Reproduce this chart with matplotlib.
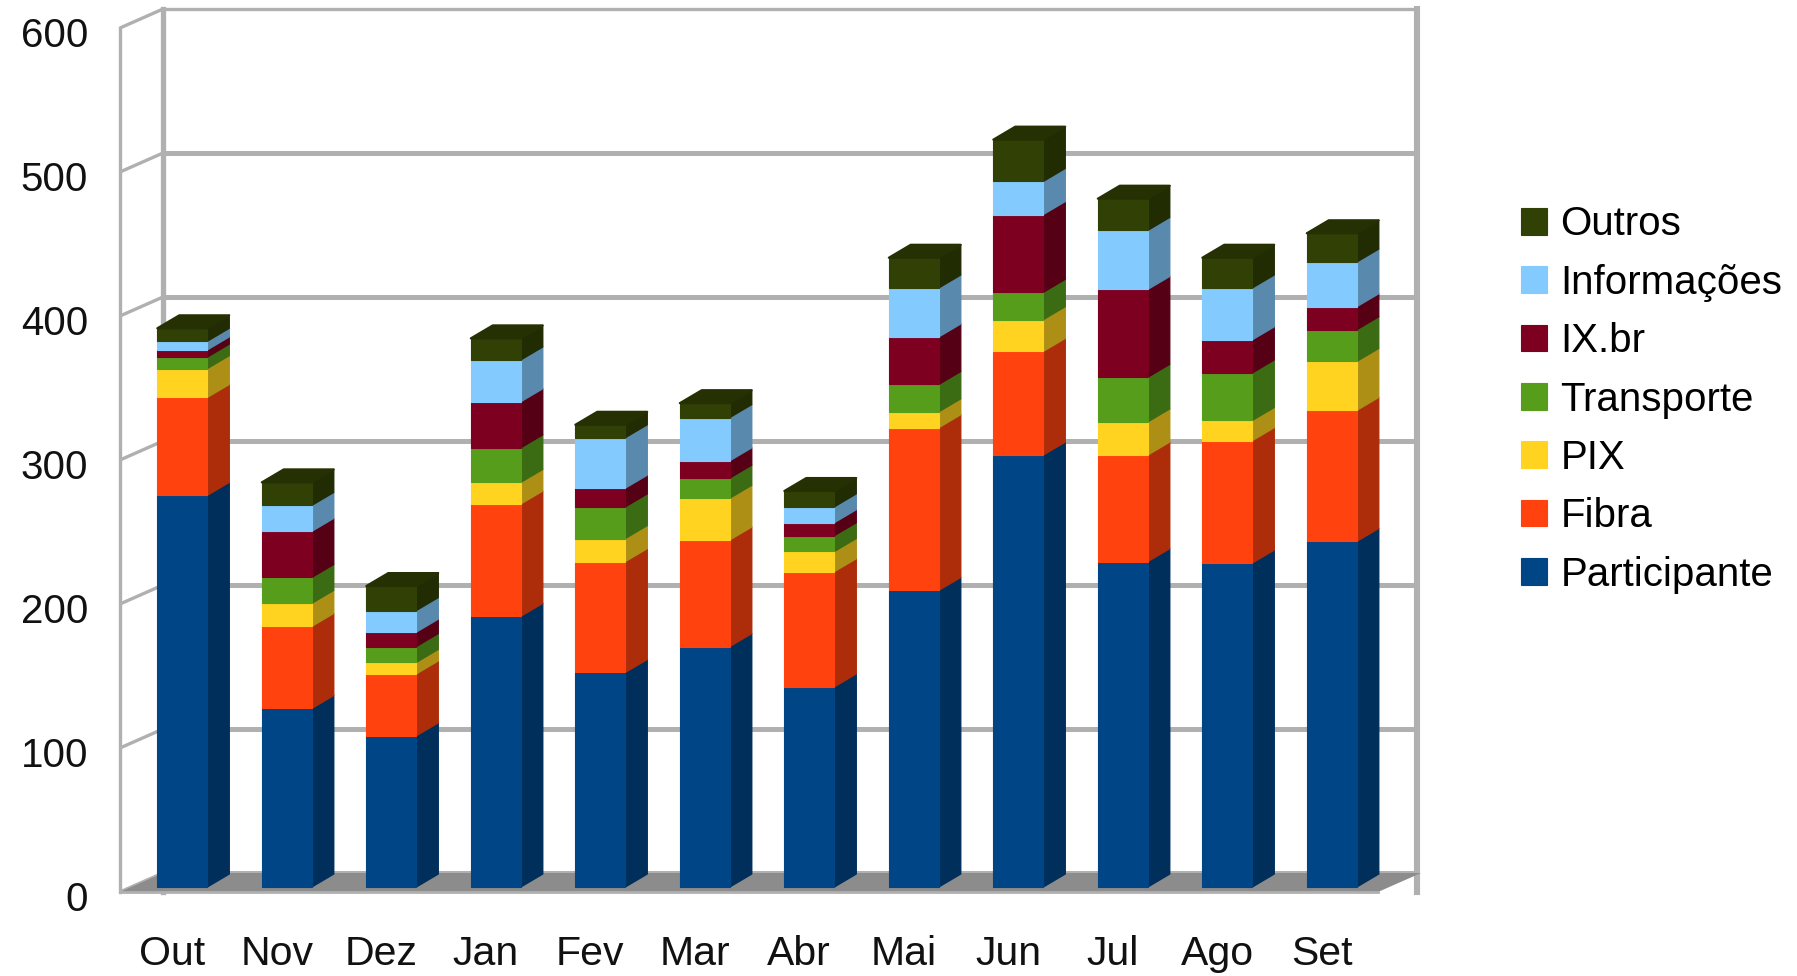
import matplotlib
matplotlib.use('Agg')
import numpy as np
import matplotlib.pyplot as plt
from matplotlib.patches import Polygon
from matplotlib.transforms import ScaledTranslation

plt.rcParams['font.family'] = ['Liberation Sans', 'DejaVu Sans']

meses = ['Out', 'Nov', 'Dez', 'Jan', 'Fev', 'Mar', 'Abr', 'Mai', 'Jun', 'Jul', 'Ago', 'Set']

# valores
participante = [272, 124, 105, 188, 149, 167, 139, 206, 300, 226, 225, 240]
fibra = [68, 57, 43, 78, 77, 74, 80, 113, 72, 74, 85, 91]
pix = [20, 16, 8, 15, 16, 29, 14, 11, 22, 23, 14, 34]
transporte = [8, 18, 11, 24, 22, 14, 11, 19, 19, 31, 33, 22]
ixbr = [5, 32, 10, 32, 13, 12, 9, 33, 54, 61, 23, 16]
informacoes = [6, 18, 15, 29, 35, 30, 11, 34, 23, 41, 36, 31]
outros = [9, 16, 17, 15, 9, 10, 11, 21, 29, 22, 21, 20]

series = [participante, fibra, pix, transporte, ixbr, informacoes, outros]
nomes = ['Participante', 'Fibra', 'PIX', 'Transporte', 'IX.br', 'Informações', 'Outros']
cores = ['#004586', '#ff420e', '#ffd320', '#579d1c', '#7e0021', '#83caff', '#314004']
y_ticks = [0, 100, 200, 300, 400, 500, 600]

W, H = 1797, 976
GRADE = '#b0b0b0'
CHAO = '#8c8c8c'

fig = plt.figure(figsize=(W / 100, H / 100), dpi=100)
ax = fig.add_axes([120 / W, 1 - 892 / H, 1254 / W, 864 / H])
ax.set_xlim(-0.5, 11.5)
ax.set_ylim(0, 600)
for s in ax.spines.values():
    s.set_visible(False)

# profundidade das paredes e das barras, em unidades dos eixos
px_x = 1 / 104.5
px_y = 1 / 1.44
wall_dx, wall_dy = 43 * px_x, 19 * px_y
bar_off_x, bar_off_y = 10 * px_x, 5 * px_y
bar_dx, bar_dy = 22 * px_x, 13 * px_y
bar_w = 50 * px_x
esq, dir_ = -0.5, 11.5


def escurecer(cor, f):
    rgb = np.array(matplotlib.colors.to_rgb(cor))
    return tuple(rgb * f)


# chao e paredes
ax.add_patch(Polygon([(esq, 0), (dir_ + 4 * px_x, 0), (dir_ + wall_dx + 4 * px_x, wall_dy), (esq + wall_dx, wall_dy)],
                     closed=True, fc=CHAO, ec='none', zorder=1, clip_on=False))
for v in y_ticks:
    ax.plot([esq, esq + wall_dx], [v, v + wall_dy], color=GRADE, lw=2.4, zorder=0.5, clip_on=False,
            solid_capstyle='butt')
    ax.plot([esq + wall_dx, dir_ + wall_dx], [v + wall_dy, v + wall_dy], color=GRADE,
            lw=2.4 if v == 600 else 3.6, zorder=0.5, clip_on=False, solid_capstyle='butt')
ax.plot([esq, esq], [0, 600], color=GRADE, lw=2.4, zorder=0.5, clip_on=False)
ax.plot([esq + wall_dx] * 2, [0, 600 + wall_dy], color=GRADE, lw=3.8, zorder=0.5, clip_on=False)
ax.plot([dir_ + wall_dx] * 2, [0, 600 + wall_dy], color=GRADE, lw=4.4, zorder=0.5, clip_on=False)
ax.plot([esq, dir_ + 4 * px_x], [0, 0], color=GRADE, lw=2.0, zorder=1.1, clip_on=False)

# barras empilhadas
x = np.arange(len(meses)) + bar_off_x
base = np.zeros(len(meses))
barras = []
for k, (vals, nome, cor) in enumerate(zip(series, nomes, cores)):
    vals = np.array(vals, dtype=float)
    b = ax.bar(x, vals, bar_w, bottom=base + bar_off_y, color=cor, edgecolor=cor, linewidth=0.8,
               label=nome, zorder=3 + 0.01 * k)
    barras.append(b)
    lado = escurecer(cor, 0.68)
    for xi, bi, vi in zip(x, base + bar_off_y, vals):
        xr = xi + bar_w / 2
        ax.add_patch(Polygon([(xr, bi), (xr + bar_dx, bi + bar_dy), (xr + bar_dx, bi + vi + bar_dy), (xr, bi + vi)],
                             closed=True, fc=lado, ec=lado, lw=1.0, joinstyle='round',
                             zorder=2.9 + 0.01 * k, clip_on=False))
    base = base + vals

# tampo da pilha
tampo = escurecer(cores[-1], 0.75)
for xi, t in zip(x, base + bar_off_y):
    xl = xi - bar_w / 2
    ax.add_patch(Polygon([(xl, t), (xl + bar_dx, t + bar_dy), (xl + bar_w + bar_dx, t + bar_dy), (xl + bar_w, t)],
                         closed=True, fc=tampo, ec=tampo, lw=1.5, joinstyle='round', zorder=3.5, clip_on=False))

ax.set_xticks(np.arange(len(meses)))
ax.set_xticklabels(meses, fontsize=29.5, color='#111111')
ax.set_yticks(y_ticks)
ax.tick_params(axis='both', length=0)
ax.tick_params(axis='x', pad=31)
ax.tick_params(axis='y', pad=23, labelsize=29, labelcolor='#111111')
desloc = ScaledTranslation(0, -4 / 100, fig.dpi_scale_trans)
for lab in ax.get_yticklabels():
    lab.set_transform(lab.get_transform() + desloc)

handles = barras[::-1]
ax.legend(handles, nomes[::-1], loc='center left', bbox_to_anchor=(1521 / W, 1 - 399.5 / H),
          bbox_transform=fig.transFigure, frameon=False, fontsize=29, borderpad=0, borderaxespad=0,
          handlelength=0.645, handleheight=0.645, handletextpad=0.33, labelspacing=0.506)

fig.savefig('out.png', dpi=100)
